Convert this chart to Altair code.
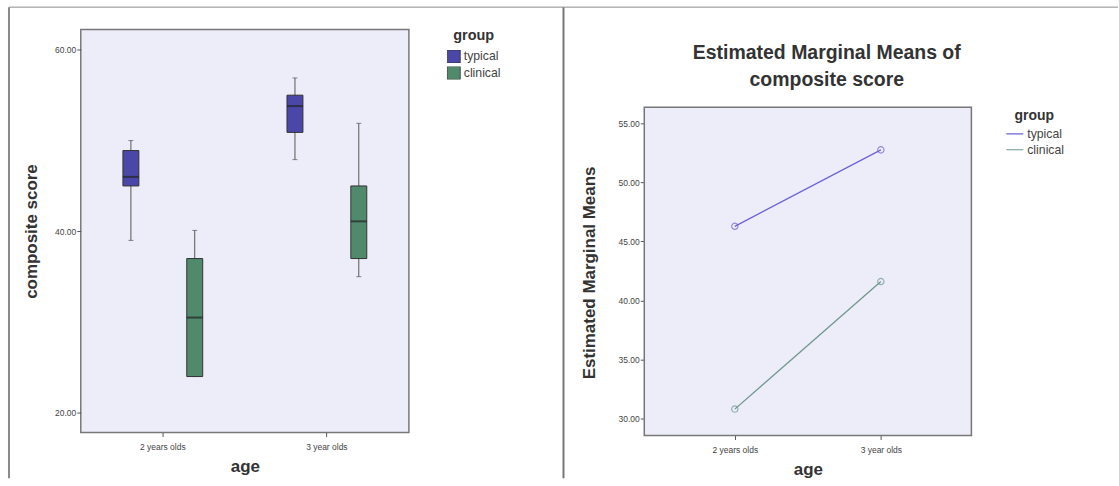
import altair as alt
import pandas as pd

FONT = "Liberation Sans"

ages = ["2 years olds", "3 year olds"]
groups = ["typical", "clinical"]

# left panel: box plot summaries (composite score)
box_age = ["2 years olds", "2 years olds", "3 year olds", "3 year olds"]
box_group = ["typical", "clinical", "typical", "clinical"]
box_low = [39.0, 24.0, 47.9, 35.0]
box_q1 = [45.0, 24.0, 50.9, 37.0]
box_median = [46.0, 30.5, 53.8, 41.1]
box_q3 = [48.9, 37.0, 55.0, 45.0]
box_high = [50.0, 40.1, 56.9, 51.9]

# right panel: estimated marginal means
mean_typical = [46.27, 52.73]
mean_clinical = [30.82, 41.60]

left_ticks = [20, 40, 60]
right_ticks = [30, 35, 40, 45, 50, 55]

box_df = pd.DataFrame({
    "age": box_age, "group": box_group, "low": box_low, "q1": box_q1,
    "median": box_median, "q3": box_q3, "high": box_high,
})
means_df = pd.DataFrame({
    "age": ages + ages,
    "group": ["typical"] * 2 + ["clinical"] * 2,
    "mean": mean_typical + mean_clinical,
})
one = pd.DataFrame({"k": [0]})

FRAME = "#8a8a8a"
PLOT_BG = "#ededfa"

# ---------------- left panel ----------------
xL = alt.X("age:N", sort=ages, scale=alt.Scale(paddingInner=0, paddingOuter=0),
           axis=alt.Axis(title="age", labelAngle=0, domain=False, tickSize=4, tickColor="#555",
                         labelFontSize=8.5, labelColor="#444", labelFont=FONT, labelPadding=6,
                         titleFont=FONT, titleFontSize=17, titleFontWeight="bold",
                         titleColor="#333", titlePadding=8))
xoffL = alt.XOffset("group:N", sort=groups, scale=alt.Scale(paddingInner=0, paddingOuter=0.285))
yscaleL = alt.Scale(domain=[17.835, 62.23], nice=False, zero=False)
yaxisL = alt.Axis(title="composite score", values=left_ticks, format=".2f", domain=False,
                  grid=False, tickSize=4, tickColor="#555", labelFontSize=8.5, labelColor="#444",
                  labelFont=FONT, labelPadding=1, titleFont=FONT, titleFontSize=17,
                  titleFontWeight="bold", titleColor="#333", titlePadding=14)

whisk = alt.Chart(box_df).mark_rule(color="#555", strokeWidth=1).encode(
    x=xL, xOffset=xoffL,
    y=alt.Y("low:Q", scale=yscaleL, axis=yaxisL), y2="high:Q")
cap_lo = alt.Chart(box_df).mark_tick(orient="horizontal", size=5, thickness=1, color="#555").encode(
    x=xL, xOffset=xoffL, y=alt.Y("low:Q", scale=yscaleL, axis=yaxisL))
cap_hi = alt.Chart(box_df).mark_tick(orient="horizontal", size=5, thickness=1, color="#555").encode(
    x=xL, xOffset=xoffL, y=alt.Y("high:Q", scale=yscaleL, axis=yaxisL))
boxes = alt.Chart(box_df).mark_bar(size=16, stroke="#333", strokeWidth=1).encode(
    x=xL, xOffset=xoffL,
    y=alt.Y("q1:Q", scale=yscaleL, axis=yaxisL), y2="q3:Q",
    color=alt.Color("group:N", sort=groups,
                    scale=alt.Scale(domain=groups, range=["#4a47a8", "#4f8a6c"]),
                    legend=alt.Legend(title="group", orient="none", legendX=367, legendY=-1,
                                      titleFont=FONT, titleFontSize=14.5, titleFontWeight="bold",
                                      titleColor="#333", titleAnchor="middle", titlePadding=7,
                                      labelFont=FONT, labelFontSize=12.3, labelColor="#444",
                                      labelOffset=3, symbolType="square", symbolSize=169,
                                      symbolStrokeColor="#333", symbolStrokeWidth=0.8,
                                      symbolOpacity=1, clipHeight=13, rowPadding=3.5)))
medians = alt.Chart(box_df).mark_tick(orient="horizontal", size=16, thickness=2, color="#222").encode(
    x=xL, xOffset=xoffL, y=alt.Y("median:Q", scale=yscaleL, axis=yaxisL))

frameL_top = alt.Chart(one).mark_rule(color=FRAME, strokeWidth=1).encode(
    x=alt.value(-72), x2=alt.value(485), y=alt.value(-22.5))
frameL_left = alt.Chart(one).mark_rule(color=FRAME, strokeWidth=2).encode(
    x=alt.value(-72), y=alt.value(-22.5), y2=alt.value(450))
frameL_div = alt.Chart(one).mark_rule(color="#777", strokeWidth=2).encode(
    x=alt.value(484), y=alt.value(-22.5), y2=alt.value(450))

left = alt.layer(frameL_top, frameL_left, frameL_div, whisk, cap_lo, cap_hi, boxes, medians).properties(
    width=329, height=404,
    view=alt.ViewBackground(fill=PLOT_BG, stroke="#777", strokeWidth=1.5))

# ---------------- right panel ----------------
xR = alt.X("age:N", sort=ages, scale=alt.Scale(type="point", padding=0.62),
           axis=alt.Axis(title="age", labelAngle=0, domain=False, tickSize=4, tickColor="#555",
                         labelFontSize=8.5, labelColor="#444", labelFont=FONT, labelPadding=6,
                         titleFont=FONT, titleFontSize=17, titleFontWeight="bold",
                         titleColor="#333", titlePadding=8))
yR = alt.Y("mean:Q", scale=alt.Scale(domain=[28.592, 62.898], nice=False, zero=False),
           axis=alt.Axis(title="Estimated Marginal Means", values=right_ticks, format=".2f",
                         domain=False, grid=False, tickSize=4, tickColor="#555",
                         labelFontSize=8.5, labelColor="#444", labelFont=FONT, labelPadding=1,
                         titleFont=FONT, titleFontSize=17, titleFontWeight="bold",
                         titleColor="#333", titlePadding=20, titleY=243.5))
colR = alt.Scale(domain=groups, range=["#6c63d4", "#6f978c"])

bgR = alt.Chart(one).mark_rect(fill=PLOT_BG, stroke="#777", strokeWidth=1.5).encode(
    x=alt.value(0), x2=alt.value(328), y=alt.value(78), y2=alt.value(407))
frameR_top = alt.Chart(one).mark_rule(color=FRAME, strokeWidth=1).encode(
    x=alt.value(-80), x2=alt.value(475), y=alt.value(-22.5))
lines = alt.Chart(means_df).mark_line(strokeWidth=1.3).encode(
    x=xR, y=yR,
    color=alt.Color("group:N", sort=groups, scale=colR,
                    legend=alt.Legend(title="group", orient="none", legendX=362, legendY=80,
                                      titleFont=FONT, titleFontSize=14, titleFontWeight="bold",
                                      titleColor="#333", titleAnchor="middle", titlePadding=4,
                                      labelFont=FONT, labelFontSize=12.3, labelColor="#444",
                                      labelOffset=3, symbolType="stroke", symbolSize=289,
                                      symbolStrokeWidth=1.2, clipHeight=13, rowPadding=3)))
points = alt.Chart(means_df).mark_point(shape="circle", filled=False, size=40, strokeWidth=1.2).encode(
    x=xR, y=yR, color=alt.Color("group:N", sort=groups, scale=colR, legend=None))

right = alt.layer(bgR, frameR_top, lines, points).properties(
    width=328, height=407,
    view=alt.ViewBackground(fill="transparent", stroke="transparent", strokeWidth=0),
    title=alt.TitleParams(["Estimated Marginal Means of", "composite score"], frame="group",
                          anchor="middle", offset=-84, dx=19, font=FONT, fontSize=19.5,
                          fontWeight="bold", color="#333", lineHeight=27))

chart = alt.hconcat(left, right, spacing=-3).resolve_scale(color="independent").properties(
    padding={"left": 7, "top": 4, "right": 0, "bottom": 0},
    background="white",
).configure_view(strokeWidth=0)

chart.save("out.html", embed_options={"renderer": "svg", "actions": False})
